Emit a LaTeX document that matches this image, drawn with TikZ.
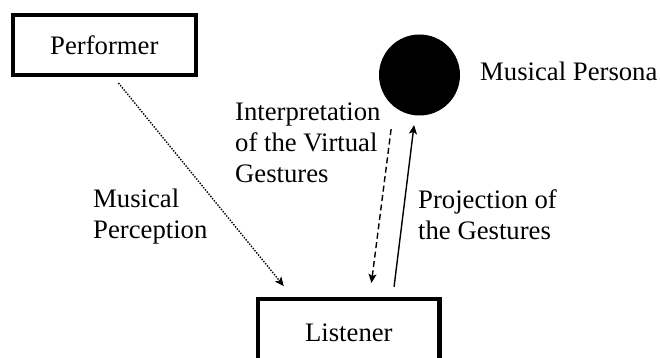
\documentclass[tikz,border=0pt]{standalone}
\usepackage{fontspec}
\setmainfont{Liberation Serif}
\usetikzlibrary{arrows.meta,shadows}
\begin{document}
\begin{tikzpicture}[x=1pt,y=-1pt,
    every node/.style={font=\fontsize{26.7}{30.5}\selectfont},
    box/.style={draw, line width=4.3pt, outer sep=0pt, fill=white,
        minimum width=183pt, minimum height=60pt,
        drop shadow={opacity=0.25, shadow xshift=1.5pt, shadow yshift=-2pt}},
    lbl/.style={align=left, anchor=base west, inner sep=0pt},
    link/.style={line width=1.4pt, -{Stealth[length=9pt,width=8pt,inset=2pt]}}]
    \useasboundingbox (0,0) rectangle (660,358);
    \node [box] (performer) at (104.35,44.85) {Performer};
    \node [box, minimum width=181.4pt, minimum height=68.3pt] (listener) at (348.85,333) {Listener};
    \node [circle, fill=black, minimum size=81pt, inner sep=0pt, outer sep=0pt] (persona) at (419.5,75) {};
    % labels: base is the last line
    \node [lbl] (personatext) at (480,81) {Musical Persona};
    \node [lbl] (perception) at (93,238) {Musical\\Perception};
    \node [lbl] (interpretation) at (235,182) {Interpretation\\of the Virtual\\Gestures};
    \node [lbl] (projection) at (418,239) {Projection of\\the Gestures};
    \draw [link, dash pattern=on 1.4pt off 1.4pt, shorten <=10.5pt, shorten >=16.5pt] (performer.-76.8) -- (listener.148.8);
    \draw [link, dash pattern=on 6pt off 3.5pt, shorten <=22.8pt, shorten >=16pt] (persona.-129.2) -- (listener.59.5);
    \draw [link, shorten <=12.2pt, shorten >=9.8pt] (listener.38.95) -- (persona.-96);
\end{tikzpicture}
\end{document}
